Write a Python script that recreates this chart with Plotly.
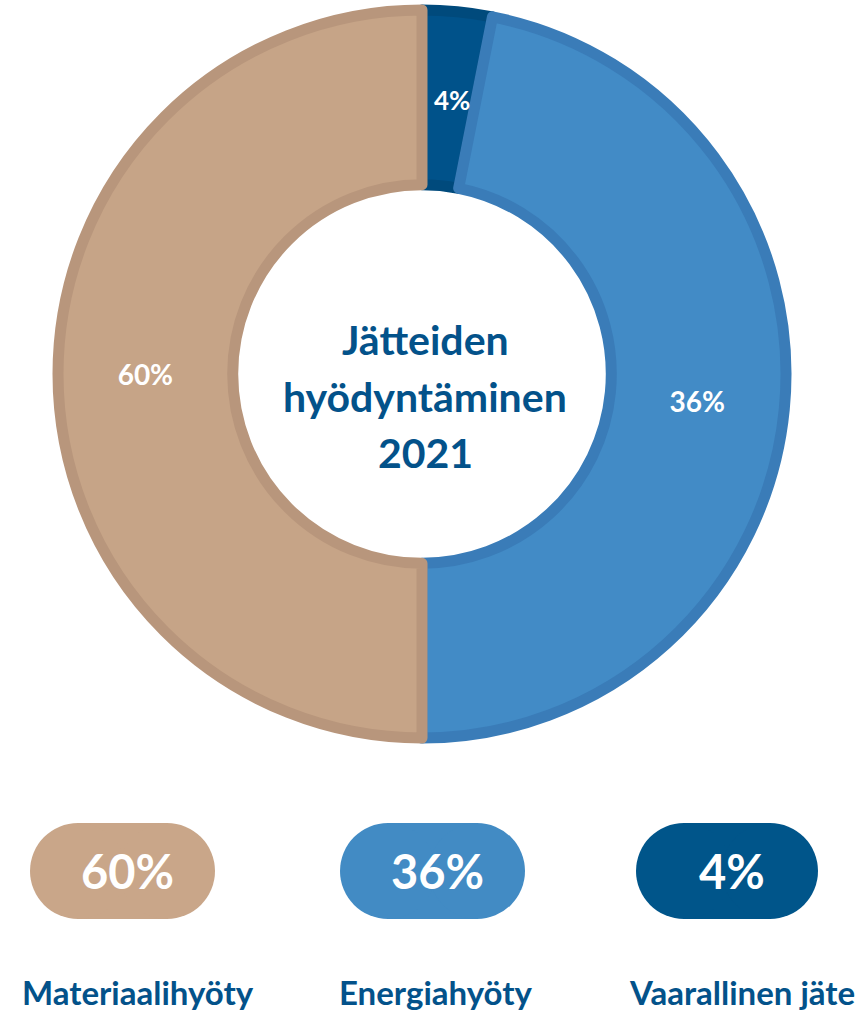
import math
import plotly.graph_objects as go

# ---- data ----
categories = ["Vaarallinen jäte", "Energiahyöty", "Materiaalihyöty"]
drawn_share = [3.1, 46.9, 50.0]          # slice sizes as drawn in the picture
pct_labels = ["4%", "36%", "60%"]        # printed percentages
slice_colors = ["#00528a", "#428bc6", "#c6a487"]
edge_colors = ["#004a7c", "#3a7cb8", "#b8967c"]

legend_order = ["Materiaalihyöty", "Energiahyöty", "Vaarallinen jäte"]
legend_pct = ["60%", "36%", "4%"]
legend_colors = ["#c9a689", "#428bc4", "#00558a"]
center_lines = ["Jätteiden", "hyödyntäminen", "2021"]

W, H = 865, 1013
FONT = "Lato"
TXT = "#03528a"

fig = go.Figure()

cx, cy, R = 422, 374, 364
HOLE = 0.52
fig.add_trace(go.Pie(
    labels=categories,
    values=drawn_share,
    text=pct_labels,
    textinfo="text",
    texttemplate="%{text}",
    textposition=["none", "inside", "inside"],
    insidetextorientation="horizontal",
    textfont=dict(family=FONT, size=28, color="white", weight="bold"),
    marker=dict(colors=slice_colors, line=dict(color=edge_colors, width=11)),
    sort=False,
    direction="clockwise",
    rotation=0,
    hole=HOLE,
    showlegend=False,
    hoverinfo="label+text",
    domain=dict(x=[(cx - R) / W, (cx + R) / W],
                y=[(H - cy - R) / H, (H - cy + R) / H]),
))

# label for the narrow first slice, placed at its mid-angle / mid-radius
total = sum(drawn_share)
mid_ang = 2 * math.pi * (drawn_share[0] / 2) / total
rmid = R * (1 + HOLE) / 2
fig.add_annotation(x=cx + 3 + rmid * math.sin(mid_ang), y=cy + 1 - rmid * math.cos(mid_ang),
                   xref="x", yref="y", text=pct_labels[0], showarrow=False,
                   font=dict(family=FONT, size=26, color="white", weight="bold"))

# centre title
for line, yy in zip(center_lines, [339, 396, 452]):
    fig.add_annotation(x=425, y=yy, xref="x", yref="y", text=line, showarrow=False,
                       font=dict(family=FONT, size=41, color=TXT, weight="bold"))

# legend pills
pill_x = [(30, 215), (340, 525), (636, 818)]
pill_y = (823, 919)
label_cx = [138, 435, 742]
r = (pill_y[1] - pill_y[0]) / 2
for (x0, x1), col, pct, name, lx in zip(pill_x, legend_colors, legend_pct, legend_order, label_cx):
    fig.add_shape(type="rect", x0=x0 + r, x1=x1 - r, y0=pill_y[0], y1=pill_y[1],
                  xref="x", yref="y", fillcolor=col, line=dict(width=0), layer="below")
    for ccx in (x0 + r, x1 - r):
        fig.add_shape(type="circle", x0=ccx - r, x1=ccx + r, y0=pill_y[0], y1=pill_y[1],
                      xref="x", yref="y", fillcolor=col, line=dict(width=0), layer="below")
    fig.add_annotation(x=(x0 + x1) / 2 + 5, y=(pill_y[0] + pill_y[1]) / 2, xref="x", yref="y",
                       text=pct, showarrow=False,
                       font=dict(family=FONT, size=47, color="white", weight="bold"))
    fig.add_annotation(x=lx, y=992, xref="x", yref="y", text=name, showarrow=False,
                       font=dict(family=FONT, size=33, color=TXT, weight="bold"))

fig.update_layout(
    width=W, height=H,
    margin=dict(l=0, r=0, t=0, b=0),
    paper_bgcolor="white", plot_bgcolor="rgba(0,0,0,0)",
    xaxis=dict(range=[0, W], visible=False, fixedrange=True),
    yaxis=dict(range=[H, 0], visible=False, fixedrange=True),
)

fig.write_html("out.html",
               config={"displayModeBar": False},
               post_script="document.body.style.margin='0';document.body.style.overflow='hidden';")
